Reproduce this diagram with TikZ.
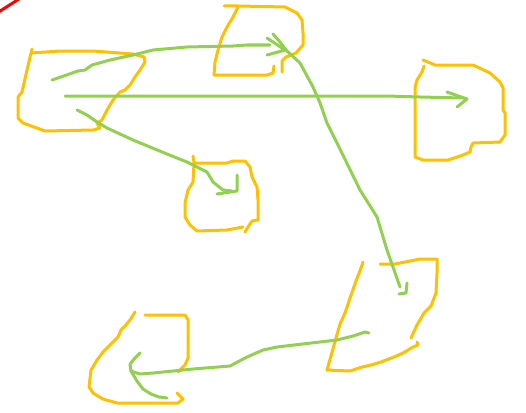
\documentclass[tikz,border=0pt]{standalone}
\definecolor{pen}{HTML}{FFC000}
\definecolor{leaf}{HTML}{92D050}
\tikzset{
  boxline/.style={draw=pen, line width=3pt, line cap=round, line join=round},
  linkline/.style={draw=leaf, line width=3pt, line cap=round, line join=round},
  redline/.style={draw=red, line width=3pt, line cap=round}
}
\begin{document}
\begin{tikzpicture}[x=1pt,y=-1pt]
\useasboundingbox (0,0) rectangle (526,412);
% red stroke
\draw[redline] (-3,13) -- (19,-1);
% box A
\draw[boxline] (32,49) -- (31,53) -- (60,51) -- (93,51) -- (133,54) -- (144,57) -- (145,62) -- (140,70) -- (135,77) -- (130,85) -- (125,90) -- (120,92) -- (113,100) -- (107,110) -- (102,120) -- (97,123) -- (100,128) -- (93,130) -- (45,131) -- (23,123) -- (18,118) -- (18,97) -- (22,92) -- (27,70) -- (31,53);
% box B
\draw[boxline] (224,6) -- (238,6) -- (285,7) -- (297,13) -- (302,20) -- (303,33) -- (303,45) -- (296,53) -- (286,57) -- (282,61) -- (282,72);
\draw[boxline] (238,7) -- (233,17) -- (227,27) -- (222,37) -- (218,50) -- (215,62) -- (214,75) -- (267,75) -- (273,73) -- (274,66);
% box C
\draw[boxline] (193,156) -- (194,163) -- (227,163) -- (233,161) -- (245,161) -- (250,167) -- (252,177) -- (257,187) -- (258,200) -- (258,220) -- (252,221) -- (248,227) -- (245,232);
\draw[boxline] (194,163) -- (193,182) -- (188,190) -- (185,203) -- (185,217) -- (190,225) -- (197,231) -- (227,230) -- (243,227);
% box D
\draw[boxline] (423,60) -- (435,65) -- (473,65) -- (490,73) -- (500,82) -- (503,88) -- (503,110) -- (505,113) -- (505,135) -- (500,142) -- (473,143) -- (471,147) -- (470,152) -- (463,155) -- (448,160) -- (423,160) -- (415,157) -- (415,87) -- (417,80) -- (422,72) -- (424,66);
% box E
\draw[boxline] (363,262) -- (361,268) -- (356,281) -- (350,298) -- (345,313) -- (340,324) -- (336,338) -- (327,370) -- (350,371) -- (362,367) -- (371,365) -- (381,362) -- (394,357) -- (403,353) -- (408,350) -- (413,347) -- (418,345) -- (417,342);
\draw[boxline] (380,264) -- (395,264) -- (420,259) -- (437,259) -- (437,273) -- (436,293) -- (431,306) -- (424,313) -- (417,325) -- (411,338);
% box F
\draw[boxline] (135,312) -- (130,320) -- (125,326) -- (121,330) -- (118,337) -- (110,345) -- (103,352) -- (97,360) -- (91,370) -- (89,387) -- (93,393) -- (103,399) -- (117,403) -- (178,403) -- (183,399) -- (177,393);
\draw[boxline] (145,315) -- (185,315) -- (188,320) -- (188,358) -- (185,365) -- (178,372);
% connectors
\coordinate (a1) at (52,80);
\coordinate (b1) at (285,50);
\draw[linkline] (a1) -- (58,78) -- (78,71) -- (85,70) -- (92,65) -- (110,60) -- (133,55) -- (153,50) -- (187,47) -- (233,46) -- (247,45) -- (270,45);
\draw[linkline] (267,38) -- (b1) -- (267,55);
\coordinate (b2) at (273,34);
\coordinate (e1) at (402,292);
\draw[linkline] (b2) -- (280,42) -- (287,51) -- (300,63) -- (313,87) -- (320,103) -- (327,123) -- (337,143) -- (360,190) -- (377,217) -- (387,250) -- (400,287);
\draw[linkline] (407,283) -- (406,293) -- (399,294);
\coordinate (a2) at (65,96);
\coordinate (d1) at (467,99);
\draw[linkline] (a2) -- (320,96) -- (387,96) -- (420,97) -- (463,98);
\draw[linkline] (447,92) -- (d1) -- (457,107);
\coordinate (a3) at (77,110);
\coordinate (c1) at (237,191);
\draw[linkline] (a3) -- (87,115) -- (97,122) -- (107,128) -- (133,140) -- (167,154) -- (187,162) -- (207,172) -- (213,182) -- (223,190) -- (232,191);
\draw[linkline] (217,194) -- (c1) -- (237,175);
\coordinate (e2) at (369,333);
\coordinate (f1) at (131,371);
\draw[linkline] (e2) -- (365,332) -- (353,336) -- (337,340) -- (277,347) -- (263,350) -- (247,357) -- (230,366) -- (193,369) -- (153,373) -- (140,374) -- (f1);
\draw[linkline] (140,353) -- (135,358) -- (130,364) -- (f1) -- (137,381) -- (143,389) -- (151,394) -- (159,397) -- (167,398);
\end{tikzpicture}
\end{document}
